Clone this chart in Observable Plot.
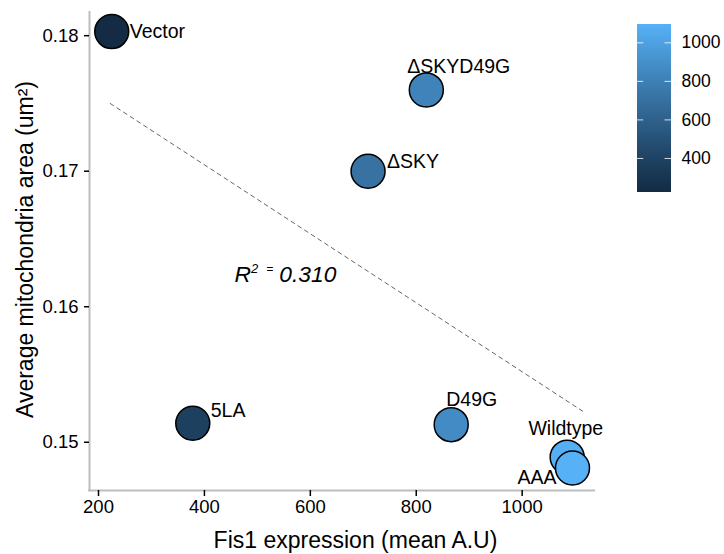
<!DOCTYPE html>
<html><head><meta charset="utf-8">
<script src="https://cdn.jsdelivr.net/npm/d3@7"></script>
<script src="https://cdn.jsdelivr.net/npm/@observablehq/plot@0.6"></script>
<style>
body{margin:0;background:#fff;}
#wrap{position:relative;width:724px;height:554px;}
#wrap svg{position:absolute;top:0;}
</style></head><body><div id="wrap"></div>
<script>
// ---- data ----
const labels = ["Vector", "ΔSKYD49G", "ΔSKY", "5LA", "D49G", "Wildtype", "AAA"];
const fis1 = [225, 819, 709, 378, 866, 1085, 1095];
const area = [0.1803, 0.1760, 0.1700, 0.1514, 0.1513, 0.1489, 0.1481];
const trendX = [222, 1114];
const trendY = [0.1750, 0.1523];
const xTicks = [200, 400, 600, 800, 1000];
const yTicks = [0.15, 0.16, 0.17, 0.18];
const colorTicks = [400, 600, 800, 1000];
const r2Label = "R² = 0.310";
const r2At = [553, 0.16235];
const xTitle = "Fis1 expression (mean A.U)";
const yTitle = "Average mitochondria area (um²)";

// ---- layout / style ----
const font = "'Liberation Sans', Arial, Helvetica, sans-serif";
const xDomain = [183, 1136.6];
const yDomain = [0.14644, 0.18171];
const labelPlacement = {
  "Vector":   {dx: 18,  dy: 0,   anchor: "start"},
  "ΔSKYD49G": {dx: -19, dy: -23, anchor: "start"},
  "ΔSKY":     {dx: 19,  dy: -9,  anchor: "start"},
  "5LA":      {dx: 18,  dy: -13, anchor: "start"},
  "D49G":     {dx: -5,  dy: -25, anchor: "start"},
  "Wildtype": {dx: 36,  dy: -28, anchor: "end"},
  "AAA":      {dx: -16, dy: 10,  anchor: "end"}
};

const data = labels.map((label, i) => ({label, fis1: fis1[i], area: area[i]}));
const trend = trendX.map((x, i) => ({x, y: trendY[i]}));
const colorDomain = d3.extent(fis1);
const colorScale = {type: "linear", domain: colorDomain, range: ["#132B43", "#56B1F7"], interpolate: "lab"};

const labelMarks = data.map(d => {
  const p = labelPlacement[d.label];
  return Plot.text([d], {x: "fis1", y: "area", text: "label", dx: p.dx, dy: p.dy,
    textAnchor: p.anchor, lineAnchor: "middle", fontSize: 19.5, fill: "black"});
});

const chart = Plot.plot({
  width: 724, height: 554,
  marginLeft: 89, marginRight: 130, marginTop: 12, marginBottom: 64,
  style: {fontFamily: font, background: "transparent", color: "black", overflow: "visible"},
  x: {domain: xDomain},
  y: {domain: yDomain},
  color: colorScale,
  marks: [
    Plot.ruleX([xDomain[0]], {stroke: "#bdbdbd", strokeWidth: 2, strokeLinecap: "square"}),
    Plot.ruleY([yDomain[0]], {stroke: "#bdbdbd", strokeWidth: 2, strokeLinecap: "square"}),
    Plot.axisX({ticks: xTicks, tickSize: 6, tickPadding: 3, fontSize: 18.5, strokeWidth: 1.5,
      label: null, tickFormat: d3.format("d"), fill: "black"}),
    Plot.axisY({ticks: yTicks, tickSize: 5, tickPadding: 6, fontSize: 18.5, strokeWidth: 1.5,
      label: null, tickFormat: d3.format(".2f"), fill: "black"}),
    Plot.line(trend, {x: "x", y: "y", stroke: "#666", strokeWidth: 1, strokeDasharray: "4,4"}),
    Plot.dot(data, {x: "fis1", y: "area", r: 17, fill: "fis1", stroke: "black", strokeWidth: 1.5}),
    ...labelMarks,
    Plot.text([r2Label], {x: () => r2At[0], y: () => r2At[1], text: d => d, fontSize: 22.8,
      fontStyle: "italic", lineAnchor: "middle", fill: "black"}),
    Plot.text([xTitle], {frameAnchor: "bottom", text: d => d, dx: 13.5, dy: 50, fontSize: 23,
      textAnchor: "middle", lineAnchor: "middle", fill: "black"}),
    Plot.text([yTitle], {frameAnchor: "left", text: d => d, rotate: -90, dx: -64, dy: -2, fontSize: 23,
      textAnchor: "middle", lineAnchor: "middle", fill: "black"})
  ]
});

// superscript-style R² label
chart.querySelectorAll("text").forEach(t => {
  if (t.textContent === r2Label) {
    while (t.firstChild) t.removeChild(t.firstChild);
    const ns = "http://www.w3.org/2000/svg";
    const parts = [
      {s: "R"},
      {s: "2", fs: 13, dy: -9},
      {s: "=", fs: 12, dx: 8},
      {s: "0.310", dy: 9, dx: 6}
    ];
    parts.forEach(p => {
      const ts = document.createElementNS(ns, "tspan");
      ts.textContent = p.s;
      if (p.fs) ts.setAttribute("font-size", p.fs);
      if (p.dy) ts.setAttribute("dy", p.dy);
      if (p.dx) ts.setAttribute("dx", p.dx);
      ts.setAttribute("font-style", "italic");
      t.appendChild(ts);
    });
  }
});

// vertical colour bar
const [lo, hi] = colorDomain;
const n = 170;
const slices = d3.range(n).map(i => ({y1: lo + (hi - lo) * i / n, y2: lo + (hi - lo) * (i + 1.2) / n, v: lo + (hi - lo) * (i + 0.5) / n}));
const legend = Plot.plot({
  width: 104, height: 210,
  marginTop: 24, marginBottom: 18.3, marginLeft: 16.7, marginRight: 53,
  style: {fontFamily: font, background: "transparent", color: "black", overflow: "visible"},
  x: {domain: [0, 1], axis: null},
  y: {domain: [lo, hi]},
  color: colorScale,
  marks: [
    Plot.rect(slices, {x1: 0, x2: 1, y1: "y1", y2: d => Math.min(d.y2, hi), fill: "v", shapeRendering: "crispEdges"}),
    Plot.ruleY(colorTicks, {x1: 0, x2: 0.19, stroke: "white", strokeOpacity: 0.8, strokeWidth: 1}),
    Plot.ruleY(colorTicks, {x1: 0.81, x2: 1, stroke: "white", strokeOpacity: 0.8, strokeWidth: 1}),
    Plot.axisY({anchor: "right", ticks: colorTicks, tickSize: 0, tickPadding: 10, fontSize: 17.5,
      label: null, tickFormat: d3.format("d"), fill: "black"})
  ]
});
legend.style.left = "620px";

const wrap = document.getElementById("wrap");
chart.style.left = "0px";
wrap.appendChild(chart);
wrap.appendChild(legend);
</script>
</body></html>
